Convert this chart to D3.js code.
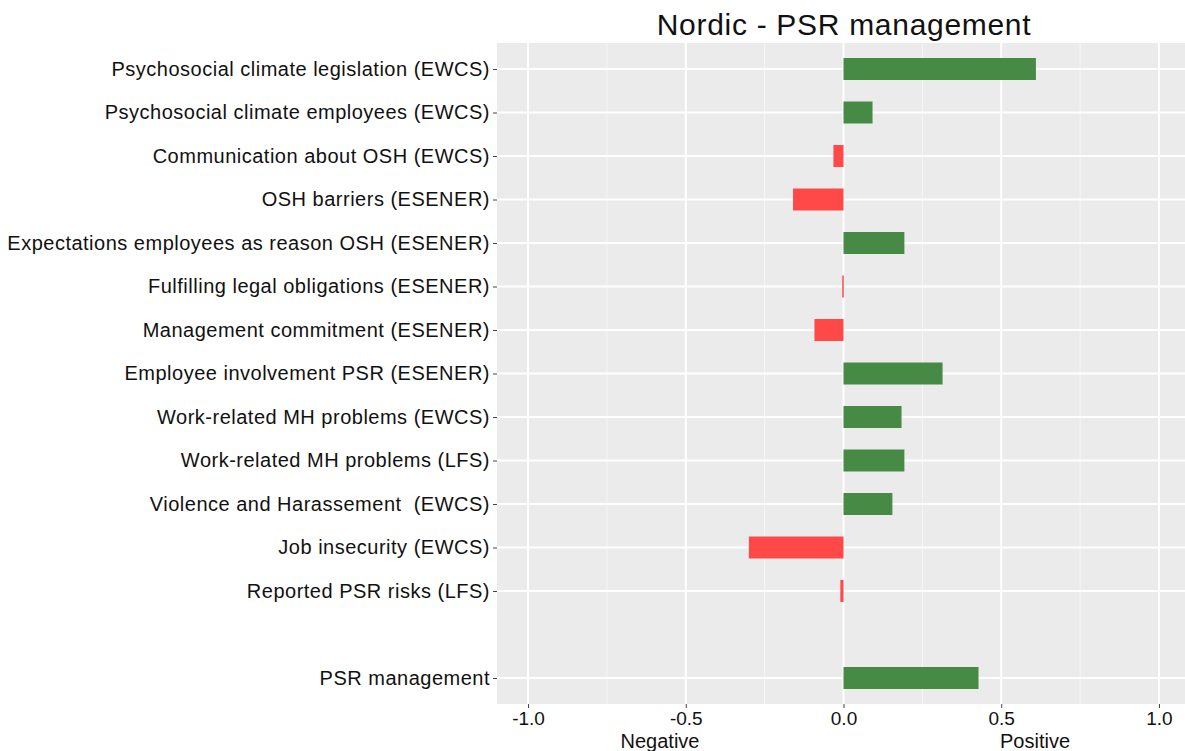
<!DOCTYPE html>
<html>
<head>
<meta charset="utf-8">
<script src="https://cdn.jsdelivr.net/npm/d3@7"></script>
<style>
  body { margin: 0; background: #fff; }
  text { font-family: "Liberation Sans", Arial, sans-serif; fill: #111; white-space: pre; }
</style>
</head>
<body>
<div id="chart"></div>
<script>
// categories top to bottom, "" is the empty spacer row
var categories = [
  "Psychosocial climate legislation (EWCS)",
  "Psychosocial climate employees (EWCS)",
  "Communication about OSH (EWCS)",
  "OSH barriers (ESENER)",
  "Expectations employees as reason OSH (ESENER)",
  "Fulfilling legal obligations (ESENER)",
  "Management commitment (ESENER)",
  "Employee involvement PSR (ESENER)",
  "Work-related MH problems (EWCS)",
  "Work-related MH problems (LFS)",
  "Violence and Harassement  (EWCS)",
  "Job insecurity (EWCS)",
  "Reported PSR risks (LFS)",
  "",
  "PSR management"
];
var values = [0.61, 0.092, -0.032, -0.16, 0.193, -0.004, -0.092, 0.314,
              0.184, 0.193, 0.155, -0.30, -0.01, null, 0.428];
var xTicks = [-1.0, -0.5, 0.0, 0.5, 1.0];
var xMinor = [-0.75, -0.25, 0.25, 0.75];

var width = 1185, height = 751;
var panel = { left: 497, top: 43, bottom: 704 };

var svg = d3.select("#chart").append("svg")
    .attr("width", width)
    .attr("height", height);

var x = d3.scaleLinear().domain([-1.1, 1.1]).range([496.5, 1190.5]);
var y = d3.scalePoint().domain(categories).range([69, 678]);
var barH = 22;

// panel background
svg.append("rect")
    .attr("x", panel.left).attr("y", panel.top)
    .attr("width", width - panel.left).attr("height", panel.bottom - panel.top)
    .attr("fill", "#ebebeb");

// grid
svg.selectAll(".minor").data(xMinor).enter().append("line")
    .attr("x1", d => x(d)).attr("x2", d => x(d))
    .attr("y1", panel.top).attr("y2", panel.bottom)
    .attr("stroke", "#f6f6f6").attr("stroke-width", 1);
svg.selectAll(".major").data(xTicks).enter().append("line")
    .attr("x1", d => x(d)).attr("x2", d => x(d))
    .attr("y1", panel.top).attr("y2", panel.bottom)
    .attr("stroke", "#fff").attr("stroke-width", 2);
var rows = categories.filter(c => c !== "");
svg.selectAll(".hgrid").data(rows).enter().append("line")
    .attr("x1", panel.left).attr("x2", width)
    .attr("y1", d => y(d)).attr("y2", d => y(d))
    .attr("stroke", "#fff").attr("stroke-width", 2);

// bars
var data = categories.map((c, i) => ({ cat: c, v: values[i] })).filter(d => d.v !== null);
svg.selectAll(".bar").data(data).enter().append("rect")
    .attr("x", d => x(Math.min(0, d.v)))
    .attr("width", d => Math.max(1.5, Math.abs(x(d.v) - x(0))))
    .attr("y", d => y(d.cat) - barH / 2)
    .attr("height", barH)
    .attr("fill", d => d.v >= 0 ? "#468a46" : "#ff4848");

// y axis
var yAxis = svg.append("g").attr("transform", "translate(" + panel.left + ",0)")
    .call(d3.axisLeft(y).tickSize(4).tickPadding(3));
yAxis.select(".domain").remove();
yAxis.selectAll(".tick line").attr("stroke", "#444");
yAxis.selectAll(".tick").filter(d => d === "").remove();
yAxis.selectAll(".tick text").style("font-size", "20px").style("letter-spacing", "0.5px")
    .style("font-family", "'Liberation Sans', Arial, sans-serif").attr("fill", "#111");

// x axis
var xAxis = svg.append("g").attr("transform", "translate(0," + panel.bottom + ")")
    .call(d3.axisBottom(x).tickValues(xTicks)
      .tickFormat(d => d3.format(".1f")(d).replace("\u2212", "-")).tickSize(4).tickPadding(4));
xAxis.select(".domain").remove();
xAxis.selectAll(".tick line").attr("stroke", "#444");
xAxis.selectAll(".tick text").style("font-size", "19px")
    .style("font-family", "'Liberation Sans', Arial, sans-serif").attr("fill", "#111");

// direction labels
svg.append("text").attr("x", 660).attr("y", 748).attr("text-anchor", "middle")
    .style("font-size", "20px").text("Negative");
svg.append("text").attr("x", 1035).attr("y", 748).attr("text-anchor", "middle")
    .style("font-size", "20px").text("Positive");

// title
svg.append("text").attr("x", 844).attr("y", 35).attr("text-anchor", "middle")
    .style("font-size", "30px").style("letter-spacing", "0.7px").text("Nordic - PSR management");
</script>
</body>
</html>
